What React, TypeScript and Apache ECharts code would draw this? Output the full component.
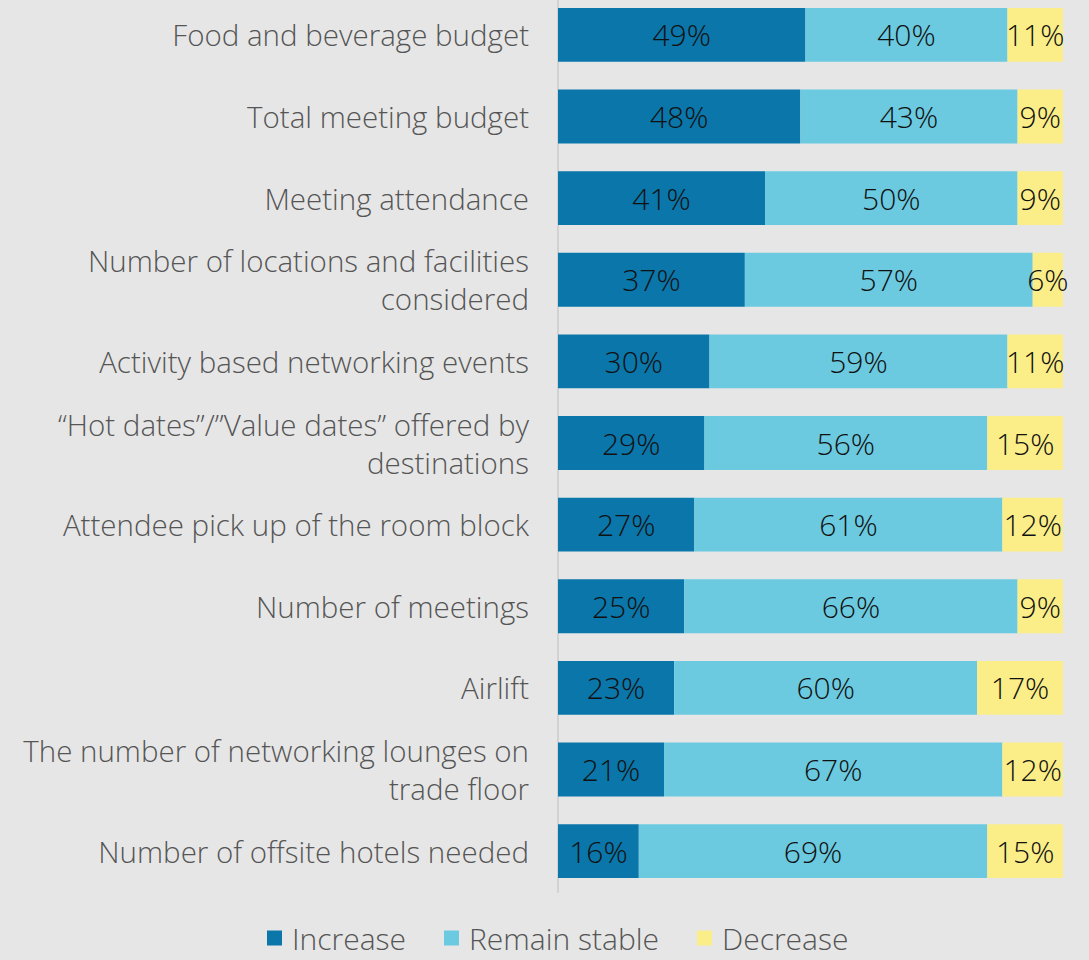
import React, { useEffect, useRef } from "react";
import * as echarts from "echarts";

const categories = [
  "Food and beverage budget",
  "Total meeting budget",
  "Meeting attendance",
  "Number of locations and facilities\nconsidered",
  "Activity based networking events",
  "“Hot dates”/”Value dates” offered by\ndestinations",
  "Attendee pick up of the room block",
  "Number of meetings",
  "Airlift",
  "The number of networking lounges on\ntrade floor",
  "Number of offsite hotels needed",
];
const increase = [49, 48, 41, 37, 30, 29, 27, 25, 23, 21, 16];
const remainStable = [40, 43, 50, 57, 59, 56, 61, 66, 60, 67, 69];
const decrease = [11, 9, 9, 6, 11, 15, 12, 9, 17, 12, 15];
const seriesNames = ["Increase", "Remain stable", "Decrease"];
const colors = ["#0a76aa", "#6bcae0", "#fbee88"];

const FONT = "'Open Sans', Lato, sans-serif";

export default function App() {
  const ref = useRef<HTMLDivElement>(null);
  useEffect(() => {
    const chart = echarts.init(ref.current!, null, { renderer: "svg" });
    const values = [increase, remainStable, decrease];
    chart.setOption({
      animation: false,
      backgroundColor: "#e6e6e6",
      grid: { left: 558, right: 26, top: 0, height: 898, containLabel: false },
      legend: {
        top: 924,
        left: 262,
        itemWidth: 15,
        itemHeight: 15,
        itemGap: 38,
        icon: "rect",
        textStyle: {
          fontFamily: FONT,
          fontSize: 30,
          lineHeight: 30,
          color: "#555555",
          fontWeight: 300,
          padding: [0, 0, 0, 5],
        },
        data: seriesNames,
      },
      xAxis: {
        type: "value",
        min: 0,
        max: 100,
        show: false,
      },
      yAxis: {
        type: "category",
        inverse: true,
        data: categories,
        axisTick: { show: false },
        axisLine: { show: true, lineStyle: { color: "#d2d2d2", width: 2 } },
        axisLabel: {
          margin: 29,
          fontFamily: FONT,
          fontSize: 29.5,
          fontWeight: 300,
          color: "#555555",
          lineHeight: 38,
          align: "right",
        },
      },
      series: values.map((v, i) => ({
        name: seriesNames[i],
        type: "bar",
        stack: "total",
        barWidth: "66%",
        data: v,
        itemStyle: { color: colors[i] },
        label: {
          show: true,
          position: "inside",
          formatter: "{c}%",
          fontFamily: FONT,
          fontSize: 30,
          fontWeight: 300,
          color: "#111111",
        },
      })),
    });
    return () => chart.dispose();
  }, []);
  return (
    <div
      ref={ref}
      style={{ position: "fixed", left: 0, top: -6, width: 1089, height: 966 }}
    />
  );
}
